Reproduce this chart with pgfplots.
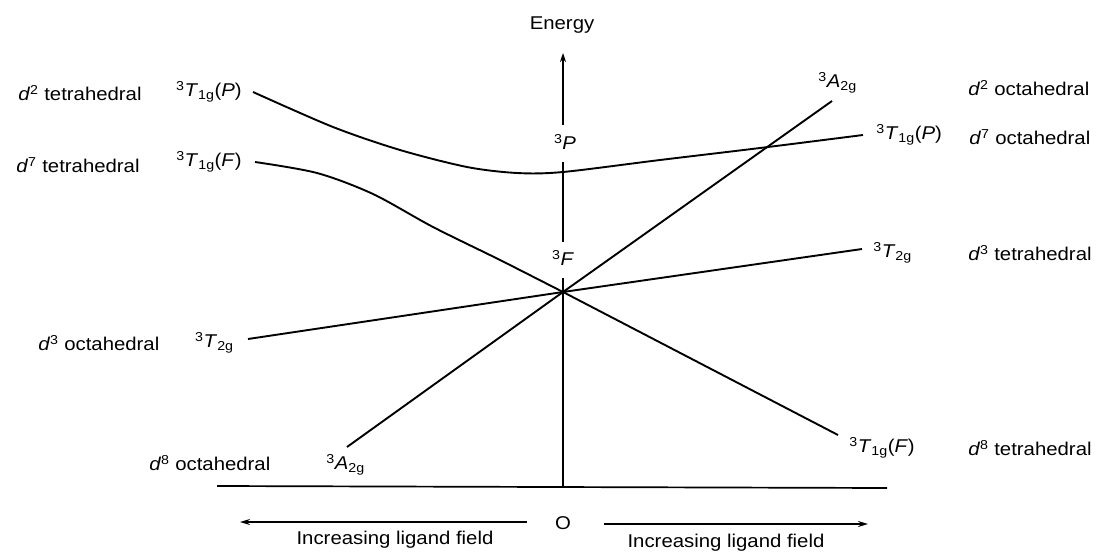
\documentclass[border=0pt]{standalone}
\usepackage{fontspec}
\setmainfont{Liberation Sans}[FakeStretch=1.1]
\usepackage{pgfplots}
\pgfplotsset{compat=1.18}
\usetikzlibrary{arrows.meta}

% term symbols: ^3 X_{sub}(extra)
\newcommand{\trm}[3]{\textsuperscript{3}\textit{#1}\textsubscript{#2}#3}
\newcommand{\dn}[2]{\textit{d}\textsuperscript{#1} #2}

\begin{document}
\fontsize{18.5}{20}\selectfont
\begin{tikzpicture}
\begin{axis}[
    scale only axis,
    width=1099pt, height=554pt,
    xmin=0, xmax=1099, ymin=0, ymax=554,
    y dir=reverse,
    hide axis,
    clip=false,
    every node/.style={inner sep=0pt},
]
% baseline and energy axis
\addplot[black, line width=1.7pt] coordinates {(217,486) (887,488)};
\addplot[black, line width=1.7pt] coordinates {(563,486) (563,278)};
\addplot[black, line width=1.7pt] coordinates {(563,242) (563,162)};
\addplot[black, line width=1.7pt, -{Stealth[length=9pt,width=6pt]}] coordinates {(563,125) (563,53)};

% 3T1g(P): curved on the left, near straight on the right
\addplot[black, line width=1.9pt, smooth, tension=0.5] coordinates {
    (253,92) (333,127) (400,150) (467,167) (517,173) (563,172) (660,160) (760,148) (863,135)};

% 3T1g(F)
\addplot[black, line width=1.9pt, smooth, tension=0.5] coordinates {
    (255,162) (317,173) (373,194) (433,227) (500,260) (563,292)};
\addplot[black, line width=1.9pt] coordinates {(563,292) (838,435)};

% 3A2g
\addplot[black, line width=1.9pt] coordinates {(347,447) (563,292) (832,101)};

% 3T2g
\addplot[black, line width=1.9pt] coordinates {(248,339) (563,292) (862,249)};

% field arrows
\addplot[black, line width=1.6pt, -{Stealth[length=10pt,width=6pt]}] coordinates {(527,522) (240,522)};
\addplot[black, line width=1.6pt, -{Stealth[length=10pt,width=6pt]}] coordinates {(604,524) (868,524)};

% labels
\node at (axis cs:562,25) {Energy};
\node at (axis cs:565,142) {\textsuperscript{3}\textit{P}};
\node at (axis cs:563,258) {\textsuperscript{3}\textit{F}};
\node at (axis cs:563,523) {O};
\node at (axis cs:395,540) {Increasing ligand field};
\node at (axis cs:726,543) {Increasing ligand field};

\node[anchor=east] at (axis cs:248,92) {\trm{T}{1g}{(\textit{P})}};
\node[anchor=east] at (axis cs:248,162) {\trm{T}{1g}{(\textit{F})}};
\node[anchor=east] at (axis cs:240,343) {\trm{T}{2g}{}};
\node[anchor=west] at (axis cs:320,465) {\trm{A}{2g}{}};
\node[anchor=west] at (axis cs:812,83) {\trm{A}{2g}{}};
\node[anchor=west] at (axis cs:870,135) {\trm{T}{1g}{(\textit{P})}};
\node[anchor=west] at (axis cs:867,253) {\trm{T}{2g}{}};
\node[anchor=west] at (axis cs:843,448) {\trm{T}{1g}{(\textit{F})}};

\node[anchor=west] at (axis cs:12,93) {\dn{2}{tetrahedral}};
\node[anchor=west] at (axis cs:10,165) {\dn{7}{tetrahedral}};
\node[anchor=west] at (axis cs:32,343) {\dn{3}{octahedral}};
\node[anchor=west] at (axis cs:143,463) {\dn{8}{octahedral}};
\node[anchor=west] at (axis cs:962,88) {\dn{2}{octahedral}};
\node[anchor=west] at (axis cs:963,137) {\dn{7}{octahedral}};
\node[anchor=west] at (axis cs:962,253) {\dn{3}{tetrahedral}};
\node[anchor=west] at (axis cs:962,448) {\dn{8}{tetrahedral}};
\end{axis}
\path[use as bounding box] (current axis.south west) rectangle (current axis.north east);
\end{tikzpicture}
\end{document}
